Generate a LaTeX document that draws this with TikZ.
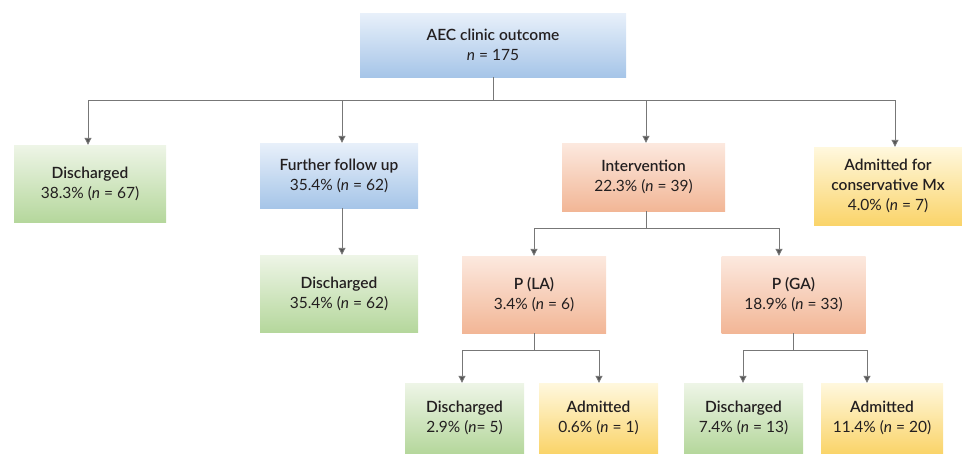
\documentclass[tikz,border=0pt]{standalone}
\usepackage{fontspec}
\setmainfont{Lato}
\newfontfamily\headfont{Lato Semibold}
\usepackage{tikz}
\usetikzlibrary{positioning, arrows.meta}

\definecolor{txtgray}{HTML}{231F20}
\definecolor{linegray}{HTML}{777777}
\definecolor{tipgray}{HTML}{555555}
\definecolor{greentop}{HTML}{EEF5E7}
\definecolor{greenbot}{HTML}{B5D79C}
\definecolor{bluetop}{HTML}{E8F0FA}
\definecolor{bluebot}{HTML}{A6C5E8}
\definecolor{orangetop}{HTML}{FCE9DF}
\definecolor{orangebot}{HTML}{F2B696}
\definecolor{yellowtop}{HTML}{FFF8DE}
\definecolor{yellowbot}{HTML}{FAD46A}

\newcommand{\head}[1]{{\headfont #1}}

\tikzset{
  box/.style = {align=center, inner sep=0pt, text=txtgray,
    font=\fontsize{15.5}{20}\selectfont},
  greenbox/.style = {box, top color=greentop, bottom color=greenbot},
  bluebox/.style = {box, top color=bluetop, bottom color=bluebot},
  orangebox/.style = {box, top color=orangetop, bottom color=orangebot},
  yellowbox/.style = {box, top color=yellowtop, bottom color=yellowbot},
  link/.style = {draw=linegray, line width=0.9pt},
  arr/.style = {link, -{Triangle[length=7pt, width=7pt, fill=tipgray]}}
}

\begin{document}
\begin{tikzpicture}[x=1pt, y=-1pt]
\useasboundingbox (0,0) rectangle (962,455);

% level 0
\node[bluebox, minimum width=266pt, minimum height=64pt] (root) at (493,45)
  {\head{AEC clinic outcome}\\\textit{n} = 175};

% level 1
\node[greenbox, minimum width=152pt, minimum height=77pt] (dis) at (90,183.5)
  {\head{Discharged}\\38.3\% (\textit{n} = 67)};
\node[bluebox, minimum width=158pt, minimum height=65pt] (follow) at (339,175.5)
  {\head{Further follow up}\\35.4\% (\textit{n} = 62)};
\node[orangebox, minimum width=163pt, minimum height=68pt] (interv) at (643.5,177)
  {\head{Intervention}\\22.3\% (\textit{n} = 39)};
\node[yellowbox, minimum width=148pt, minimum height=78pt] (cons) at (888,186)
  {\head{Admitted for}\\\head{conservative Mx}\\4.0\% (\textit{n} = 7)};

% level 2
\node[greenbox, minimum width=158pt, minimum height=77pt] (fdis) at (339,293.5)
  {\head{Discharged}\\35.4\% (\textit{n} = 62)};
\node[orangebox, minimum width=144pt, minimum height=77pt] (pla) at (534,294.5)
  {\head{P (LA)}\\3.4\% (\textit{n} = 6)};
\node[orangebox, minimum width=144pt, minimum height=77pt] (pga) at (793.5,294.5)
  {\head{P (GA)}\\18.9\% (\textit{n} = 33)};

% level 3
\node[greenbox, minimum width=119pt, minimum height=70pt] (ladis) at (464.5,418)
  {\head{Discharged}\\2.9\% (\textit{n}= 5)};
\node[yellowbox, minimum width=119pt, minimum height=70pt] (laadm) at (598.5,418)
  {\head{Admitted}\\0.6\% (\textit{n} = 1)};
\node[greenbox, minimum width=119pt, minimum height=70pt] (gadis) at (743.5,418)
  {\head{Discharged}\\7.4\% (\textit{n} = 13)};
\node[yellowbox, minimum width=122pt, minimum height=70pt] (gaadm) at (882,418)
  {\head{Admitted}\\11.4\% (\textit{n} = 20)};

% junctions
\coordinate (j0) at (493,100);
\coordinate (j1) at (646,228);
\coordinate (j2) at (534,350);
\coordinate (j3) at (793,350);

\draw[link] (root.south -| j0) -- (j0);
\draw[arr] (j0) -| ([xshift=-2pt]dis.north);
\draw[arr] (j0) -| ([xshift=3pt]follow.north);
\draw[arr] (j0) -| ([xshift=2.5pt]interv.north);
\draw[arr] (j0) -| ([xshift=7pt]cons.north);

\draw[arr] ([xshift=3pt]follow.south) -- ([xshift=3pt]fdis.north);

\draw[link] (interv.south -| j1) -- (j1);
\draw[arr] (j1) -| (pla.north);
\draw[arr] (j1) -| ([xshift=-14.5pt]pga.north);

\draw[link] (pla.south -| j2) -- (j2);
\draw[arr] (j2) -| ([xshift=-2.5pt]ladis.north);
\draw[arr] (j2) -| ([xshift=0.5pt]laadm.north);

\draw[link] (pga.south -| j3) -- (j3);
\draw[arr] (j3) -| ([xshift=-0.5pt]gadis.north);
\draw[arr] (j3) -| ([xshift=-15pt]gaadm.north);
\end{tikzpicture}
\end{document}
